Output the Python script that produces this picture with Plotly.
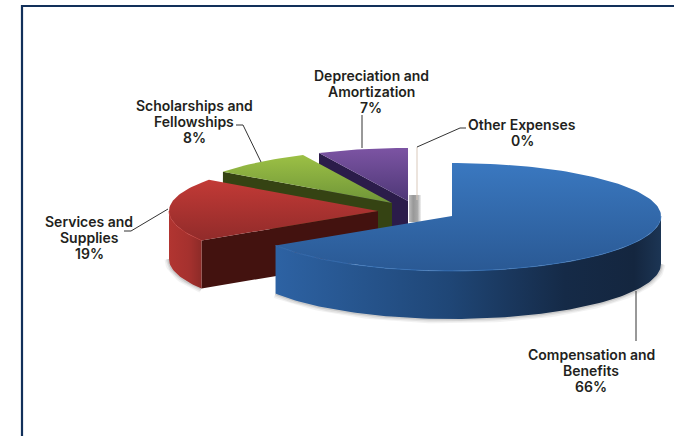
import math
import plotly.graph_objects as go

# Expense shares, percent of the total, clockwise from twelve o'clock
categories = ["Compensation and<br>Benefits", "Services and<br>Supplies",
              "Scholarships and<br>Fellowships", "Depreciation and<br>Amortization",
              "Other Expenses"]
values = [66, 19, 8, 7, 0]

# Where each exploded wedge's tip sits on the canvas
tip_x = [452, 378, 392, 408, 417]
tip_y = [216, 211, 203, 201, 200]

# Wedge styling: top-face gradient, cut-face colour, rim gradient
top_colors = [("#3a78c0", "#2a5994"), ("#c23a36", "#912b2a"), ("#9cc045", "#6f9538"),
              ("#7c54a3", "#4e3877"), ("#f4efe9", "#f4efe9")]
face_colors = ["#1d3d68", "#43120f", "#354313", "#2b1c4a", "#d9c9bb"]
rim_colors = [
    [[0, "#2d62a3"], [0.45, "#1f4676"], [0.75, "#152a47"], [0.93, "#14263f"], [1, "#1c3554"]],
    [[0, "#b23531"], [0.6, "#a5312e"], [1, "#8a2a27"]],
]
rim_spans = [(277, 661), (168, 203)]

# Label placement: centre of each text block and its leader polyline
label_x = [591, 89, 194, 371, 522]
label_y = [370, 237, 121, 91, 132]
leader_x = [[636, 636], [124, 131, 168], [236, 243, 261], [362, 362], [417, 460, 466]]
leader_y = [[291, 341], [231, 231, 209], [125, 125, 162], [148, 115], [147, 128, 128]]

RX, RY_BACK, RY_FRONT, DEPTH = 209, 53, 55, 48
LINE_GAP = 16
TEXT = "#231f20"


def rim_point(cx, cy, deg):
    """Project an angle (clockwise from the top) onto the tilted disc's edge."""
    a = math.radians(deg)
    ry = RY_BACK if math.cos(a) > 0 else RY_FRONT
    return cx + RX * math.sin(a), cy - ry * math.cos(a)


def arc(cx, cy, start, stop, dy=0, step=1.5):
    n = max(2, int(abs(stop - start) / step) + 1)
    pts = [rim_point(cx, cy, start + (stop - start) * i / (n - 1)) for i in range(n)]
    return [p[0] for p in pts], [p[1] + dy for p in pts]


def gradient(colors, orientation, start, stop):
    return dict(type=orientation, colorscale=colors, start=start, stop=stop)


fig = go.Figure()


def polygon(xs, ys, **kw):
    fig.add_trace(go.Scatter(x=xs + xs[:1], y=ys + ys[:1], mode="lines", fill="toself",
                             line=dict(width=0), hoverinfo="skip", showlegend=False, **kw))


def stroke(xs, ys, color, width, opacity=1.0):
    fig.add_trace(go.Scatter(x=xs, y=ys, mode="lines", hoverinfo="skip", showlegend=False,
                             opacity=opacity, line=dict(color=color, width=width)))


# Angular extents come from the cumulative shares
bounds = [0]
for v in values:
    bounds.append(bounds[-1] + v * 3.6)

# Paint back to front so nearer wedges cover farther ones
for i in reversed(range(len(values))):
    cx, cy = tip_x[i], tip_y[i]
    start, stop = bounds[i], bounds[i + 1]
    ex, ey = rim_point(cx, cy, start)

    if values[i] == 0:
        # A zero share collapses to a sliver; its soft shadow sits low on the edge
        polygon([cx - 8, cx + 4, cx + 4, cx - 8], [cy - 5, cy - 5, cy + 22, cy + 22],
                fillgradient=gradient([[0, "#bdbdbd"], [0.35, "#989898"], [0.7, "#a8a8a8"], [1, "#f2f2f2"]],
                                      "horizontal", cx - 8, cx + 4))
        stroke([ex, ex], [ey, cy], face_colors[i], 1)
        continue

    # Soft ground shadow hugging the lower rim
    lo, hi = max(start, 90), min(stop, 270)
    if hi > lo:
        sx, sy = arc(cx, cy, lo, hi, DEPTH)
        for w, op in ((9, 0.07), (6, 0.10), (3, 0.16)):
            stroke(sx, sy, "#555555", w, op)

    # Cut face along the wedge's starting radius
    if start > 180:
        polygon([cx, ex, ex, cx], [cy, ey, ey + DEPTH, cy + DEPTH], fillcolor=face_colors[i])

    # Outer wall, only where the rim faces the viewer
    if hi > lo:
        tx, ty = arc(cx, cy, lo, hi)
        bx, by = arc(cx, cy, lo, hi, DEPTH)
        polygon(tx + bx[::-1], ty + by[::-1],
                fillgradient=gradient(rim_colors[i], "horizontal", *rim_spans[i]))

    # Top face
    ax, ay = arc(cx, cy, start, stop)
    y0 = min(ay + [cy])
    y1 = max(ay + [cy])
    polygon([cx] + ax, [cy] + ay,
            fillgradient=gradient([[0, top_colors[i][0]], [1, top_colors[i][1]]], "vertical", y0, y1))

    # Bevel highlight on the front edge of the top face
    if hi > lo:
        stroke(tx, ty, top_colors[i][0], 1, 0.7)

# Leader lines and labels
for xs, ys in zip(leader_x, leader_y):
    stroke(xs, ys, "#333333", 1)

# Each text row is placed on its own to hold a tight, even line spacing
for name, v, x, y in zip(categories, values, label_x, label_y):
    rows = name.split("<br>") + [f"{v}%"]
    for k, row in enumerate(rows):
        fig.add_annotation(x=x, y=y + (k - (len(rows) - 1) / 2) * LINE_GAP, text=row,
                           showarrow=False, xanchor="center", yanchor="middle",
                           font=dict(family="Inter", size=14, color=TEXT, weight=600))

fig.update_layout(
    width=674, height=436, autosize=False,
    margin=dict(l=0, r=0, t=0, b=0),
    paper_bgcolor="white", plot_bgcolor="white", showlegend=False,
    xaxis=dict(range=[0, 674], visible=False, fixedrange=True),
    yaxis=dict(range=[436, 0], visible=False, fixedrange=True),
    shapes=[dict(type="path", path="M 22 436 L 22 6 L 674 6", xref="x", yref="y",
                 line=dict(color="#12305a", width=2.2))],
)

fig.write_html("out.html", config=dict(displayModeBar=False))
